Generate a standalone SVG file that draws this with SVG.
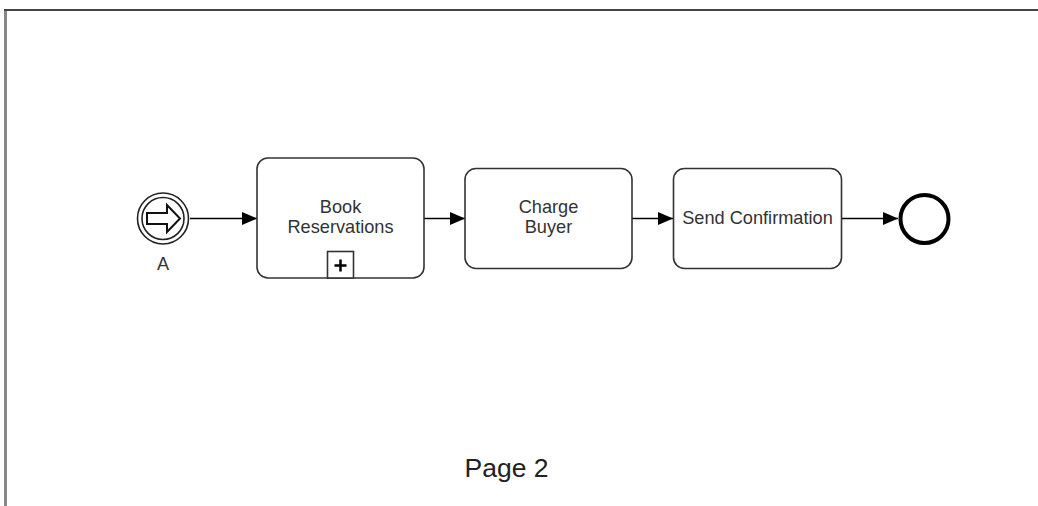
<svg xmlns="http://www.w3.org/2000/svg" width="1038" height="506" viewBox="0 0 1038 506">
<style>
.task{fill:#fff;stroke:#333;stroke-width:1.6}
.lbl{font-family:"Liberation Sans",Arial,sans-serif;font-size:18.2px;fill:#333;text-anchor:middle}
.conn{stroke:#000;stroke-width:1.5;fill:none}
</style>
<defs>
<marker id="arr" viewBox="0 0 15 13" refX="15" refY="6.5" markerWidth="15" markerHeight="13" markerUnits="userSpaceOnUse" orient="auto">
<path d="M0,0 L15,6.5 L0,13 Z" fill="#000"/>
</marker>
</defs>
<rect width="1038" height="506" fill="#fff"/>
<g id="frame">
<line x1="5.5" y1="9" x2="5.5" y2="506" stroke="#888" stroke-width="3"/>
<line x1="4" y1="10" x2="1038" y2="10" stroke="#444" stroke-width="2"/>
</g>
<g id="connectors">
<line class="conn" x1="190" y1="218.5" x2="257" y2="218.5" marker-end="url(#arr)"/>
<line class="conn" x1="424" y1="218.5" x2="465" y2="218.5" marker-end="url(#arr)"/>
<line class="conn" x1="632" y1="218.5" x2="673" y2="218.5" marker-end="url(#arr)"/>
<line class="conn" x1="842" y1="218.5" x2="898" y2="218.5" marker-end="url(#arr)"/>
</g>
<g id="start">
<circle cx="163" cy="218.5" r="25.5" fill="#fff" stroke="#222" stroke-width="1.6"/>
<circle cx="163" cy="218.5" r="21" fill="#fff" stroke="#222" stroke-width="1.6"/>
<polygon points="147,213 167,213 167,205 180,218.5 167,232 167,224 147,224" fill="#fff" stroke="#111" stroke-width="2" stroke-linejoin="miter"/>
<text class="lbl" x="163" y="269.5">A</text>
</g>
<g id="book">
<rect class="task" x="257" y="158" width="167" height="120" rx="11"/>
<text class="lbl" x="340.5" y="212.5">Book</text>
<text class="lbl" x="340.5" y="233">Reservations</text>
<rect x="327.5" y="251.5" width="26" height="26.5" fill="#fff" stroke="#333" stroke-width="1.6"/>
<path d="M334.5,265.5 H346.5 M340.5,259.5 V271.5" stroke="#000" stroke-width="2.5"/>
</g>
<g id="charge">
<rect class="task" x="465" y="168.5" width="167" height="100" rx="11"/>
<text class="lbl" x="548.5" y="212.5">Charge</text>
<text class="lbl" x="548.5" y="233">Buyer</text>
</g>
<g id="send">
<rect class="task" x="673.5" y="168.5" width="168" height="100" rx="11"/>
<text class="lbl" x="757.5" y="223.5">Send Confirmation</text>
</g>
<g id="end">
<circle cx="924.5" cy="219" r="24" fill="#fff" stroke="#000" stroke-width="4"/>
</g>
<text x="506.5" y="476.5" font-family="Liberation Sans, Arial, sans-serif" font-size="26.5" fill="#222" text-anchor="middle">Page 2</text>
</svg>
